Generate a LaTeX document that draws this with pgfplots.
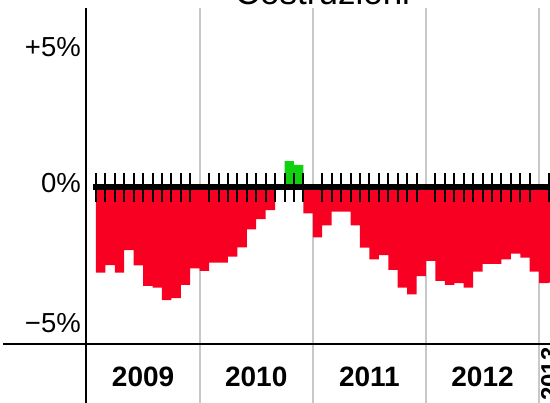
\documentclass[border=0pt]{standalone}
\usepackage{fontspec}
\setmainfont{Liberation Sans}
\usepackage{pgfplots}
\pgfplotsset{compat=1.18}
\definecolor{barred}{RGB}{247,0,34}
\definecolor{bargreen}{RGB}{16,208,16}
\definecolor{yeargray}{RGB}{200,200,200}
\begin{document}
\begin{tikzpicture}[x=1pt,y=1pt]
\useasboundingbox (0,0) rectangle (550,403);
\clip (0,0) rectangle (550,403);
\node[anchor=base, inner sep=0pt, font=\fontsize{35}{40}\selectfont] at (322.5,398) {Costruzioni};
\begin{axis}[
  at={(86.5pt,58.7pt)}, anchor=south west,
  scale only axis, width=471.5pt, height=336.3pt,
  xmin=0, xmax=50, ymin=-5.765, ymax=6.6,
  axis line style={draw=none},
  major tick length=0pt,
  xtick={6,18,30,42}, xticklabels={2009,2010,2011,2012},
  xticklabel style={anchor=center, yshift=-32.4pt, inner sep=0pt,
    font=\fontsize{28}{30}\selectfont\bfseries},
  ytick={-5,0.15,5.15}, yticklabels={−5\%,0\%,+5\%},
  yticklabel style={anchor=east, inner sep=0pt, xshift=-5.5pt,
    font=\fontsize{27.5}{30}\selectfont},
  clip=false,
]
% year separators
\addplot[yeargray, line width=2pt] coordinates {(12,6.6) (12,-12)};
\addplot[yeargray, line width=2pt] coordinates {(24,6.6) (24,-12)};
\addplot[yeargray, line width=2pt] coordinates {(36,6.6) (36,-12)};
\addplot[yeargray, line width=2pt] coordinates {(48,6.6) (48,-12)};

% monthly changes, Feb 2009 onwards
\addplot[ybar interval, fill=barred, draw=none] coordinates {
  (1,-3.13) (2,-2.85) (3,-3.13) (4,-2.30) (5,-2.86) (6,-3.62)
  (7,-3.68) (8,-4.14) (9,-4.07) (10,-3.58) (11,-2.97)
  (12,-3.07) (13,-2.76) (14,-2.76) (15,-2.54) (16,-2.20) (17,-1.54)
  (18,-1.16) (19,-0.83) (20,0) (21,0) (22,0) (23,-0.95)
  (24,-1.83) (25,-1.39) (26,-0.89) (27,-0.89) (28,-1.39) (29,-2.21)
  (30,-2.64) (31,-2.49) (32,-3.03) (33,-3.68) (34,-3.93) (35,-3.26)
  (36,-2.70) (37,-3.43) (38,-3.58) (39,-3.52) (40,-3.68) (41,-3.09)
  (42,-2.81) (43,-2.81) (44,-2.64) (45,-2.43) (46,-2.58) (47,-3.09)
  (48,-3.52) (49,-3.50) (50,0)
};
\addplot[ybar interval, fill=bargreen, draw=none] coordinates {
  (21,0.97) (22,0.83) (23,0)
};

% axis frame
\addplot[black, line width=2pt] coordinates {(0,6.6) (0,-12)};
\addplot[black, line width=2pt] coordinates {(-8.85,-5.765) (50,-5.765)};

% zero line with month ticks
\addplot[black, line width=6pt] coordinates {(0.7,0) (50,0)};
\addplot[only marks, mark=|, mark size=14.5pt, mark options={line width=2pt, black}] coordinates {
  (1,0) (2,0) (3,0) (4,0) (5,0) (6,0) (7,0) (8,0) (9,0) (10,0) (11,0)
  (13,0) (14,0) (15,0) (16,0) (17,0) (18,0) (19,0) (20,0) (21,0) (22,0) (23,0)
  (25,0) (26,0) (27,0) (28,0) (29,0) (30,0) (31,0) (32,0) (33,0) (34,0) (35,0)
  (37,0) (38,0) (39,0) (40,0) (41,0) (42,0) (43,0) (44,0) (45,0) (46,0) (47,0)
  (49,0)
};

\node[rotate=90, anchor=north, inner sep=0pt, font=\fontsize{24}{26}\selectfont\bfseries]
  at (axis cs:48.2,-6.86) {2013};
\end{axis}
\end{tikzpicture}
\end{document}
